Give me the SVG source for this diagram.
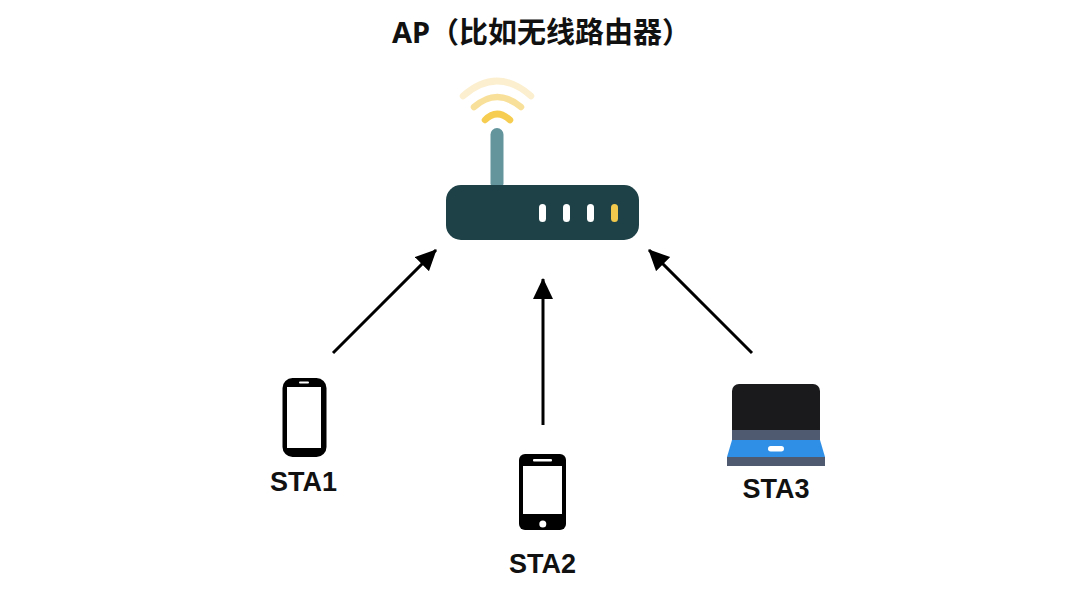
<svg xmlns="http://www.w3.org/2000/svg" width="1080" height="599" viewBox="0 0 1080 599">
<style>
text{font-family:"Noto Sans","Noto Sans CJK SC","Liberation Sans",sans-serif;font-weight:700;fill:#111;text-anchor:middle}
text.lbl{font-family:"Liberation Sans",sans-serif;font-size:27px}
.c{fill:none;stroke:#000;stroke-width:3}
.w{fill:none;stroke-linecap:round;stroke-width:6.500}
.led{fill:#fff}
</style>
<defs><marker id="a" markerUnits="userSpaceOnUse" markerWidth="24" markerHeight="22" refX="20" refY="10" orient="auto"><path d="M0 0L21 10L0 20z" fill="#000"/></marker></defs>
<rect width="1080" height="599" fill="#fff"/>
<g id="connectors">
<line class="c" x1="333" y1="353" x2="436" y2="250" marker-end="url(#a)"/>
<line class="c" x1="543" y1="425" x2="543" y2="279" marker-end="url(#a)"/>
<line class="c" x1="752" y1="353" x2="649" y2="250" marker-end="url(#a)"/>
</g>
<g id="title"><text x="392" y="43" font-size="29" style="text-anchor:start">AP（比如无线路由器）</text></g>
<g id="ap">
<rect x="490.500" y="128" width="13" height="62" rx="6.500" fill="#64959d"/>
<path class="w" d="M485 120Q497 108 510 120" stroke="#f6cd50"/>
<path class="w" d="M474 107Q497 87 521 107" stroke="#f9e09a"/>
<path class="w" d="M463 96Q497 66 531 96" stroke="#fbefcf"/>
<rect x="446" y="185" width="193" height="55" rx="15" fill="#1d4146"/>
<rect class="led" x="539" y="204" width="7" height="18" rx="3.500"/>
<rect class="led" x="563" y="204" width="7" height="18" rx="3.500"/>
<rect class="led" x="587" y="204" width="7" height="18" rx="3.500"/>
<rect x="611" y="204" width="7" height="18" rx="3.500" fill="#f2c94c"/>
</g>
<g id="sta1">
<rect x="282.500" y="378" width="44" height="79" rx="10" fill="#000"/>
<rect x="287" y="387" width="34" height="61" fill="#fff"/>
<rect x="299" y="381.500" width="10" height="2" rx="1" fill="#fff"/>
<text class="lbl" x="303.500" y="491">STA1</text>
</g>
<g id="sta2">
<rect x="519" y="454" width="47" height="76" rx="6" fill="#000"/>
<rect x="523" y="466" width="39" height="48" fill="#fff"/>
<rect x="533" y="459" width="19" height="2.500" rx="1" fill="#fff"/>
<circle cx="542.800" cy="524" r="3.500" fill="#fff"/>
<text class="lbl" x="542.500" y="573">STA2</text>
</g>
<g id="sta3">
<path d="M732 430V391a7 7 0 0 1 7-7h74a7 7 0 0 1 7 7v39z" fill="#1a1a1c"/>
<rect x="732" y="430" width="88" height="10" fill="#4f5a70"/>
<path d="M732 440H820L825 457H727z" fill="#2f8ee6"/>
<rect x="727" y="457" width="98" height="9" fill="#4f5a70"/>
<rect x="768" y="446" width="16" height="5.500" rx="2.700" fill="#fff"/>
<text class="lbl" x="776" y="498">STA3</text>
</g>
</svg>
